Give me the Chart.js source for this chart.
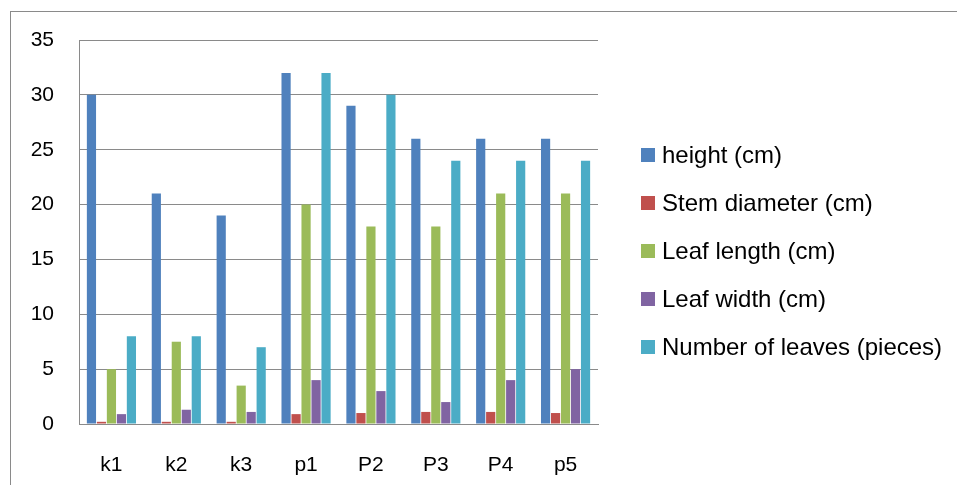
<!DOCTYPE html>
<html>
<head>
<meta charset="utf-8">
<script src="https://cdn.jsdelivr.net/npm/chart.js@4/dist/chart.umd.min.js"></script>
<style>
    html, body { margin: 0; padding: 0; background: #fff; }
    #frame {
        position: absolute;
        left: 10px;
        top: 11px;
        width: 960px;
        height: 480px;
        border-left: 1.5px solid #8a8a8a;
        border-top: 1.5px solid #8a8a8a;
    }
    #box {
        position: absolute;
        left: 10px;
        top: 11px;
        width: 947px;
        height: 474px;
    }
    #legend {
        position: absolute;
        left: 641px;
        top: 141px;
        font-family: 'Liberation Sans', sans-serif;
        font-size: 24px;
        color: #000;
    }
    .item {
        height: 48px;
        display: flex;
        align-items: flex-start;
        white-space: nowrap;
    }
    .swatch {
        width: 14px;
        height: 14px;
        margin-top: 7px;
        margin-right: 7px;
    }
</style>
</head>
<body>
<div id="frame"></div>
<div id="box"><canvas id="plantChart"></canvas></div>
<div id="legend"></div>
<script>
const categories = ['k1', 'k2', 'k3', 'p1', 'P2', 'P3', 'P4', 'p5'];
const seriesNames = ['height (cm)', 'Stem diameter (cm)', 'Leaf length (cm)', 'Leaf width (cm)', 'Number of leaves (pieces)'];
const heightCm = [30, 21, 19, 32, 29, 26, 26, 26];
const stemDiameter = [0.2, 0.2, 0.2, 0.9, 1.0, 1.1, 1.1, 1.0];
const leafLength = [5, 7.5, 3.5, 20, 18, 18, 21, 21];
const leafWidth = [0.9, 1.3, 1.1, 4, 3, 2, 4, 5];
const leafCount = [8, 8, 7, 32, 30, 24, 24, 24];
const yTicks = [0, 5, 10, 15, 20, 25, 30, 35];

const seriesValues = [heightCm, stemDiameter, leafLength, leafWidth, leafCount];
const seriesColors = ['#4F81BD', '#C0504D', '#9BBB59', '#8064A2', '#4BACC6'];

document.addEventListener("DOMContentLoaded", function() {
    const ctx = document.getElementById('plantChart').getContext('2d');

    const plantChart = new Chart(ctx, {
        type: 'bar',
        data: {
            labels: categories,
            datasets: seriesNames.map(function(name, i) {
                return {
                    label: name,
                    data: seriesValues[i],
                    backgroundColor: seriesColors[i],
                    borderWidth: 0,
                    barPercentage: 0.92,
                    categoryPercentage: 0.77,
                };
            })
        },
        options: {
            responsive: true,
            maintainAspectRatio: false,
            animation: false,
            layout: {
                padding: { top: 29, right: 359, left: 0, bottom: 0 }
            },
            scales: {
                x: {
                    grid: { display: false },
                    border: { color: '#8a8a8a', width: 1 },
                    ticks: {
                        color: '#000',
                        font: { family: 'Liberation Sans', size: 21 },
                        padding: 21,
                    },
                    afterFit: function(scale) {
                        scale.height = 61;
                        scale.paddingLeft = 0;
                        scale.paddingRight = 0;
                    },
                },
                y: {
                    min: 0,
                    max: 35,
                    afterBuildTicks: function(scale) {
                        scale.ticks = yTicks.map(function(v) { return { value: v }; });
                    },
                    grid: { color: '#8a8a8a', drawTicks: false },
                    border: { color: '#8a8a8a', width: 1 },
                    ticks: {
                        color: '#000',
                        font: { family: 'Liberation Sans', size: 21 },
                        padding: 25,
                    },
                    afterFit: function(scale) {
                        scale.width = 69;
                        scale.paddingTop = 0;
                        scale.paddingBottom = 0;
                    },
                },
            },
            plugins: {
                legend: { display: false },
                tooltip: { enabled: false },
            },
        },
    });

    // Legend
    const legendBox = document.getElementById('legend');
    plantChart.data.datasets.forEach(function(ds) {
        const item = document.createElement('div');
        item.className = 'item';
        const swatch = document.createElement('span');
        swatch.className = 'swatch';
        swatch.style.background = ds.backgroundColor;
        const text = document.createElement('span');
        text.textContent = ds.label;
        item.appendChild(swatch);
        item.appendChild(text);
        legendBox.appendChild(item);
    });
});
</script>
</body>
</html>
